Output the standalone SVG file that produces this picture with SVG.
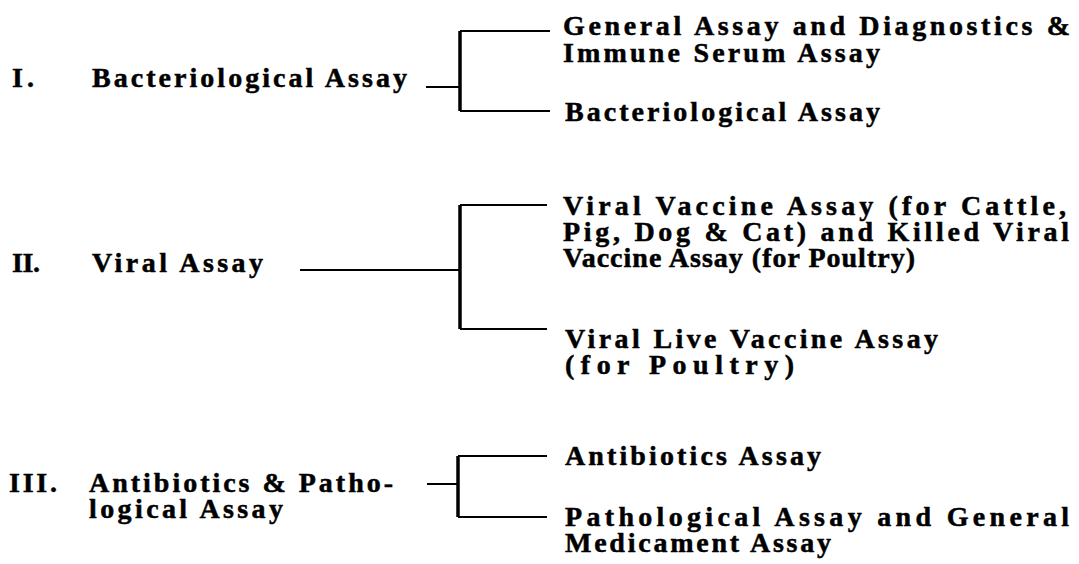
<svg xmlns="http://www.w3.org/2000/svg" width="1079" height="564" viewBox="0 0 1079 564">
<style>
text{font-family:"Liberation Serif","Times New Roman",serif;font-weight:bold;font-size:28px;fill:#000;stroke:#000;stroke-width:0.5}
.ln{stroke:#000;stroke-width:2;fill:none}
.br{stroke:#000;stroke-width:3.5;fill:none}
</style>
<rect width="1079" height="564" fill="#fff"/>
<g id="connectors">
<path class="ln" d="M426 87H460M460 31H550M460 111H550"/>
<path class="br" d="M460 31V111"/>
<path class="ln" d="M300 270H460M460 205H547M460 329H547"/>
<path class="br" d="M460 205V329"/>
<path class="ln" d="M427 484H458M458 456H547M458 517H547"/>
<path class="br" d="M458 456V517"/>
</g>
<g id="n1">
<text x="12" y="87" textLength="22" lengthAdjust="spacing">I.</text>
<text x="92" y="87" textLength="315" lengthAdjust="spacing">Bacteriological Assay</text>
</g>
<g id="n1a">
<text x="563" y="35" textLength="507" lengthAdjust="spacing">General Assay and Diagnostics &amp;</text>
<text x="563" y="62" textLength="317" lengthAdjust="spacing">Immune Serum Assay</text>
</g>
<g id="n1b">
<text x="565" y="121" textLength="315" lengthAdjust="spacing">Bacteriological Assay</text>
</g>
<g id="n2">
<text x="12" y="272" textLength="28" lengthAdjust="spacing">II.</text>
<text x="92" y="272" textLength="171" lengthAdjust="spacing">Viral Assay</text>
</g>
<g id="n2a">
<text x="563" y="215" textLength="503" lengthAdjust="spacing">Viral Vaccine Assay (for Cattle,</text>
<text x="563" y="241" textLength="506" lengthAdjust="spacing">Pig, Dog &amp; Cat) and Killed Viral</text>
<text x="563" y="267" textLength="352" lengthAdjust="spacing">Vaccine Assay (for Poultry)</text>
</g>
<g id="n2b">
<text x="565" y="348" textLength="373" lengthAdjust="spacing">Viral Live Vaccine Assay</text>
<text x="565" y="374" textLength="229" lengthAdjust="spacing">(for Poultry)</text>
</g>
<g id="n3">
<text x="9" y="492" textLength="48" lengthAdjust="spacing">III.</text>
<text x="89" y="492" textLength="304" lengthAdjust="spacing">Antibiotics &amp; Patho-</text>
<text x="89" y="518" textLength="194" lengthAdjust="spacing">logical Assay</text>
</g>
<g id="n3a">
<text x="565" y="465" textLength="256" lengthAdjust="spacing">Antibiotics Assay</text>
</g>
<g id="n3b">
<text x="565" y="526" textLength="504" lengthAdjust="spacing">Pathological Assay and General</text>
<text x="565" y="552" textLength="266" lengthAdjust="spacing">Medicament Assay</text>
</g>
</svg>
